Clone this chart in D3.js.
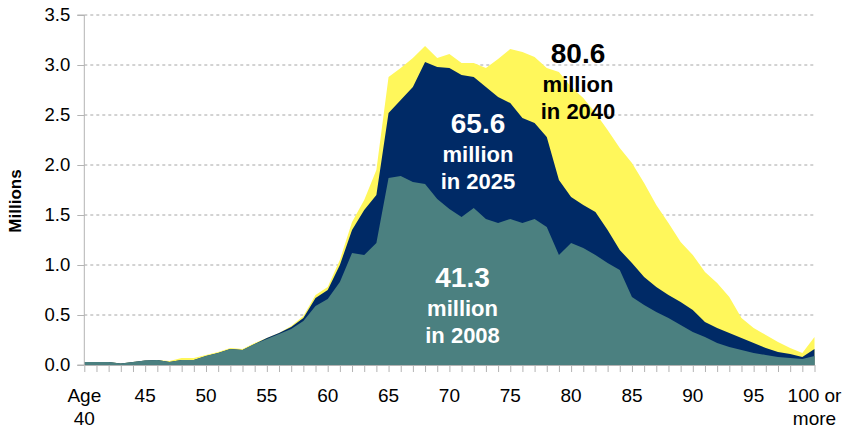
<!DOCTYPE html>
<html>
<head>
<meta charset="utf-8">
<script src="https://cdn.jsdelivr.net/npm/d3@7"></script>
<style>
  html, body { margin: 0; padding: 0; background: #fff; }
  svg { display: block; font-family: "Liberation Sans", Arial, sans-serif; }
</style>
</head>
<body>
<svg id="chart" width="845" height="430"></svg>
<script>
// Population by single year of age (millions), ages 40 .. "100 or more"
const ages = d3.range(40, 101);

const pop2008 = [
  0.03, 0.03, 0.03, 0.015, 0.03, 0.045, 0.05, 0.03, 0.05, 0.05,
  0.09, 0.12, 0.16, 0.15, 0.21, 0.26, 0.31, 0.36, 0.44, 0.59,
  0.66, 0.83, 1.12, 1.10, 1.22, 1.87, 1.89, 1.83, 1.81, 1.66,
  1.56, 1.48, 1.57, 1.46, 1.42, 1.46, 1.42, 1.46, 1.38, 1.10,
  1.22, 1.17, 1.10, 1.02, 0.95, 0.68, 0.60, 0.53, 0.47, 0.40,
  0.33, 0.28, 0.22, 0.18, 0.15, 0.12, 0.10, 0.08, 0.07, 0.06,
  0.09
];

const pop2025 = [
  0.03, 0.03, 0.03, 0.015, 0.03, 0.045, 0.05, 0.03, 0.05, 0.05,
  0.09, 0.12, 0.16, 0.15, 0.21, 0.27, 0.32, 0.38, 0.47, 0.67,
  0.75, 1.00, 1.35, 1.55, 1.70, 2.52, 2.65, 2.78, 3.03, 2.98,
  2.97, 2.90, 2.88, 2.78, 2.68, 2.62, 2.47, 2.42, 2.28, 1.85,
  1.68, 1.60, 1.53, 1.35, 1.15, 1.02, 0.88, 0.78, 0.70, 0.63,
  0.55, 0.43, 0.37, 0.32, 0.27, 0.22, 0.17, 0.13, 0.11, 0.08,
  0.16
];

const pop2040 = [
  0.03, 0.03, 0.03, 0.015, 0.03, 0.045, 0.05, 0.04, 0.07, 0.07,
  0.10, 0.13, 0.17, 0.16, 0.22, 0.27, 0.32, 0.39, 0.49, 0.70,
  0.78, 1.05, 1.43, 1.65, 1.95, 2.88, 2.97, 3.07, 3.19, 3.07,
  3.11, 3.02, 3.02, 2.97, 3.06, 3.16, 3.13, 3.08, 2.97, 2.93,
  2.78, 2.67, 2.52, 2.35, 2.17, 2.02, 1.82, 1.60, 1.42, 1.23,
  1.10, 0.93, 0.82, 0.68, 0.47, 0.37, 0.30, 0.23, 0.17, 0.12,
  0.28
];

const labelAges = [40, 45, 50, 55, 60, 65, 70, 75, 80, 85, 90, 95, 100];
const labelText = ["Age|40", "45", "50", "55", "60", "65", "70", "75", "80", "85", "90", "95", "100 or|more"];
const yTicks = [0, 0.5, 1.0, 1.5, 2.0, 2.5, 3.0, 3.5];

const totals = ["41.3", "65.6", "80.6"];
const years = ["2008", "2025", "2040"];

const colors = { y2008: "#4b8080", y2025: "#002a66", y2040: "#fff75b" };

const svg = d3.select("#chart");
const plotLeft = 84.3, plotRight = 814.5, plotTop = 15, plotBottom = 365;

const x = d3.scaleLinear().domain([40, 100]).range([plotLeft, plotRight]);
const y = d3.scaleLinear().domain([0, 3.5]).range([plotBottom, plotTop]);

// dashed horizontal gridlines
svg.append("g")
  .selectAll("line")
  .data(yTicks.filter(d => d > 0))
  .join("line")
  .attr("x1", plotLeft).attr("x2", plotRight + 1)
  .attr("y1", d => y(d)).attr("y2", d => y(d))
  .attr("stroke", "#a6a6a6")
  .attr("stroke-width", 1)
  .attr("stroke-dasharray", "3,3");

// overlapping areas, latest year at the back
const area = values => d3.area()
  .x((d, i) => x(ages[i]))
  .y0(y(0))
  .y1(d => y(d))(values);

svg.append("path").attr("d", area(pop2040)).attr("fill", colors.y2040);
svg.append("path").attr("d", area(pop2025)).attr("fill", colors.y2025);
svg.append("path").attr("d", area(pop2008)).attr("fill", colors.y2008);

// y axis
const yAxis = d3.axisLeft(y)
  .tickValues(yTicks)
  .tickFormat(d3.format(".1f"))
  .tickSize(7)
  .tickPadding(7);
const gy = svg.append("g").attr("transform", `translate(${plotLeft},0)`).call(yAxis);
gy.select(".domain").attr("stroke", "#b3b3b3").attr("d", `M-7,${plotTop}H0V${plotBottom}H-7`);
gy.selectAll(".tick line").attr("stroke", "#b3b3b3");
gy.selectAll(".tick text")
  .attr("font-size", 18.5)
  .attr("fill", "#000")
  .attr("font-family", "'Liberation Sans', Arial, sans-serif");

// x axis: a tick at every single year
const xAxis = d3.axisBottom(x)
  .tickValues(ages)
  .tickFormat("")
  .tickSize(7)
  .tickSizeOuter(0);
const gx = svg.append("g").attr("transform", `translate(0,${plotBottom})`).call(xAxis);
gx.select(".domain").attr("stroke", "#b3b3b3");
gx.selectAll(".tick line").attr("stroke", "#b3b3b3");

// x category labels (some on two lines)
const xl = svg.append("g")
  .selectAll("text")
  .data(labelAges)
  .join("text")
  .attr("x", d => x(d))
  .attr("y", 402)
  .attr("text-anchor", "middle")
  .attr("font-size", 19)
  .attr("fill", "#000");
xl.each(function(d, i) {
  const parts = labelText[i].split("|");
  d3.select(this).selectAll("tspan")
    .data(parts)
    .join("tspan")
    .attr("x", x(d))
    .attr("dy", (p, j) => j === 0 ? 0 : 23)
    .text(p => p);
});

// y axis title
svg.append("text")
  .attr("transform", "translate(21,201) rotate(-90)")
  .attr("text-anchor", "middle")
  .attr("font-size", 17)
  .attr("font-weight", "bold")
  .attr("fill", "#000")
  .text("Millions");

// totals printed over each area
const notes = [
  { total: totals[0], year: years[0], age: 71.08, v: 0.78, fill: "#fff" },
  { total: totals[1], year: years[1], age: 72.35, v: 2.32, fill: "#fff" },
  { total: totals[2], year: years[2], age: 80.57, v: 3.02, fill: "#000" }
];
notes.forEach(n => {
  const t = svg.append("text")
    .attr("text-anchor", "middle")
    .attr("font-weight", "bold")
    .attr("fill", n.fill);
  t.append("tspan").attr("x", x(n.age)).attr("y", y(n.v))
    .attr("font-size", 28).text(n.total);
  t.append("tspan").attr("x", x(n.age)).attr("dy", 29)
    .attr("font-size", 22).text("million");
  t.append("tspan").attr("x", x(n.age)).attr("dy", 27)
    .attr("font-size", 22).text("in " + n.year);
});
</script>
</body>
</html>
